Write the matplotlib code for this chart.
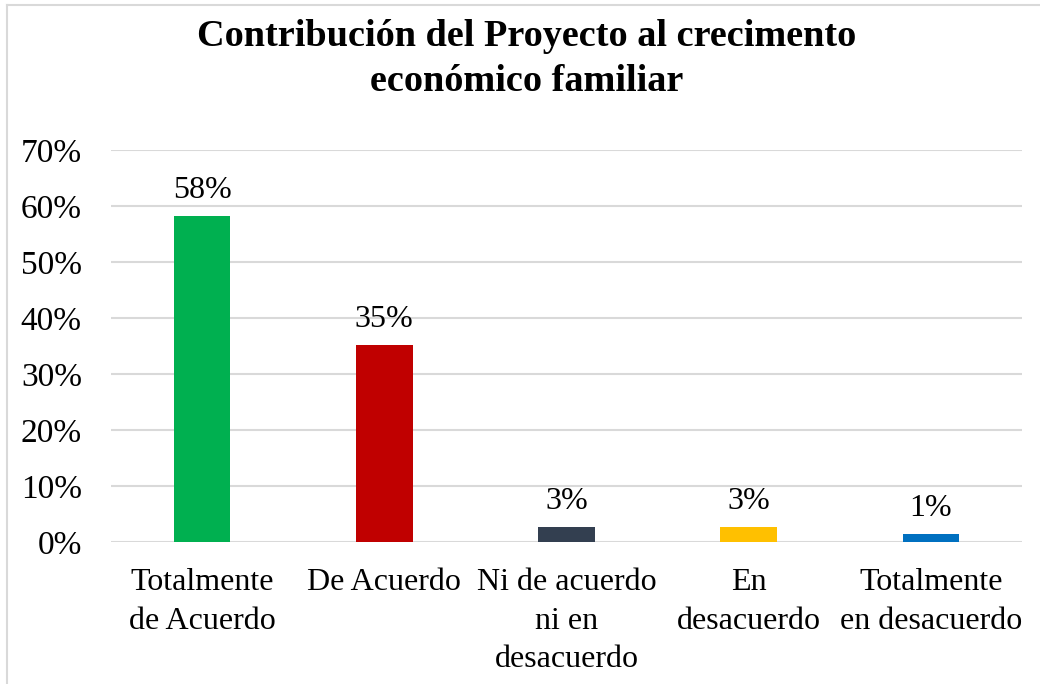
import matplotlib.pyplot as plt
from matplotlib.lines import Line2D
from matplotlib.ticker import PercentFormatter

plt.rcParams['font.family'] = ['Liberation Serif', 'DejaVu Serif']

categorias = ['Totalmente\nde Acuerdo', 'De Acuerdo', 'Ni de acuerdo\nni en\ndesacuerdo',
              'En\ndesacuerdo', 'Totalmente\nen desacuerdo']
valores = [58.2, 35.2, 2.7, 2.7, 1.4]
etiquetas = ['58%', '35%', '3%', '3%', '1%']
colores = ['#00B050', '#C00000', '#333F50', '#FFC000', '#0070C0']

fig = plt.figure(figsize=(10.4, 6.84), dpi=100)
ax = fig.add_axes([111 / 1040, 1 - 542 / 684, 911 / 1040, 392 / 684])

x = range(len(categorias))
bars = ax.bar(x, valores, width=0.31, color=colores, zorder=3)
for b, t in zip(bars, etiquetas):
    ax.annotate(t, (b.get_x() + b.get_width() / 2, b.get_height()),
                xytext=(0, 8), textcoords='offset points',
                ha='center', va='bottom', fontsize=23)

ax.set_xlim(-0.5, len(categorias) - 0.5)
ax.set_ylim(0, 70)
ax.set_yticks(range(0, 71, 10))
ax.yaxis.set_major_formatter(PercentFormatter(decimals=0))
ax.grid(axis='y', color='#D9D9D9', linewidth=1.5, zorder=0)
for s in ax.spines.values():
    s.set_visible(False)
ax.tick_params(axis='y', length=0, pad=21, labelsize=24)
ax.tick_params(axis='x', length=0, pad=19, labelsize=23)
ax.set_xticks(list(x))
ax.set_xticklabels(categorias, linespacing=1.42)

fig.text(527 / 1040, 1 - 59 / 684, 'Contribución del Proyecto al crecimento\neconómico familiar',
         ha='center', va='center', fontsize=27.5, fontweight='bold', linespacing=1.4)

# marco del grafico
fig.add_artist(Line2D([7 / 1040, 7 / 1040], [0, 1 - 5 / 684], color='#D9D9D9', linewidth=1.5))
fig.add_artist(Line2D([7 / 1040, 1], [1 - 5 / 684, 1 - 5 / 684], color='#D9D9D9', linewidth=1.5))

fig.savefig('out.png', dpi=100)
